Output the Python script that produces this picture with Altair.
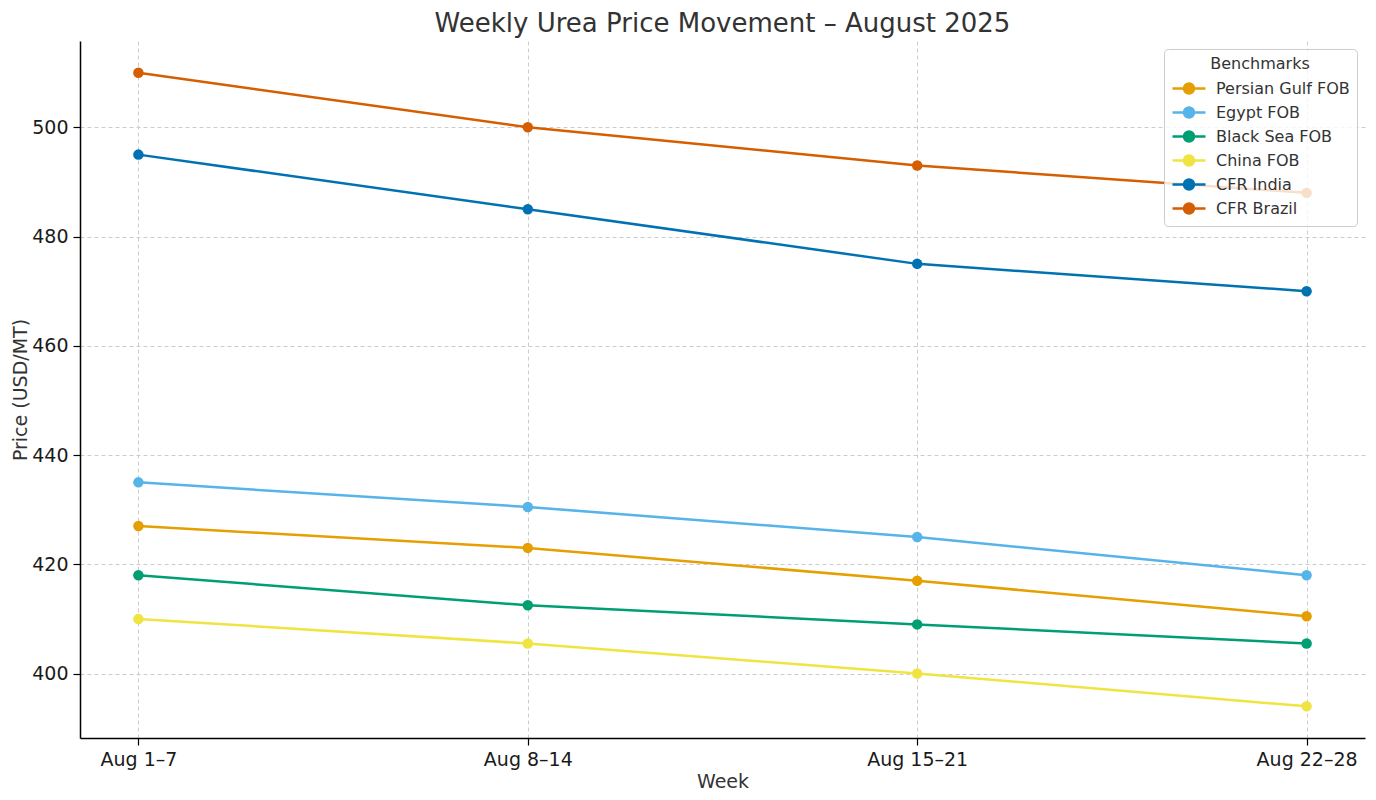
import altair as alt
import pandas as pd

weeks = ["Aug 1–7", "Aug 8–14", "Aug 15–21", "Aug 22–28"]
benchmarks = ["Persian Gulf FOB", "Egypt FOB", "Black Sea FOB", "China FOB", "CFR India", "CFR Brazil"]
colors = ["#E69F00", "#56B4E9", "#009E73", "#F0E442", "#0072B2", "#D55E00"]

persian_gulf = [427, 423, 417, 410.5]
egypt = [435, 430.5, 425, 418]
black_sea = [418, 412.5, 409, 405.5]
china = [410, 405.5, 400, 394]
cfr_india = [495, 485, 475, 470]
cfr_brazil = [510, 500, 493, 488]

series = [persian_gulf, egypt, black_sea, china, cfr_india, cfr_brazil]
rows = []
for name, vals in zip(benchmarks, series):
    for i, (w, v) in enumerate(zip(weeks, vals)):
        rows.append({"Week": w, "Benchmark": name, "Price": v, "order": i})
df = pd.DataFrame(rows)

FONT = "DejaVu Sans"
# line with a dot in the middle, for the legend
LEGEND_SYMBOL = "M-1,0L2.3,0M0.15,0A0.5,0.5 0 1,1 1.15,0A0.5,0.5 0 1,1 0.15,0Z"

x = alt.X("Week:N", sort=weeks, scale=alt.Scale(type="point", padding=0.15),
          axis=alt.Axis(title="Week", labelAngle=0, grid=True))
y = alt.Y("Price:Q", scale=alt.Scale(domain=[388.2, 515.8], nice=False, zero=False),
          axis=alt.Axis(title="Price (USD/MT)", values=[400, 420, 440, 460, 480, 500]))
color = alt.Color(
    "Benchmark:N",
    sort=benchmarks,
    scale=alt.Scale(domain=benchmarks, range=colors),
    legend=alt.Legend(
        title="Benchmarks",
        orient="none",
        legendX=1084,
        legendY=8,
        symbolType=LEGEND_SYMBOL,
        symbolSize=400,
        symbolStrokeWidth=2.5,
        zindex=1,
    ),
)

base = alt.Chart(df).encode(x=x, y=y, color=color, order="order:O")
lines = base.mark_line(strokeWidth=2.5)
points = base.mark_point(filled=True, size=110, opacity=1)

chart = (
    alt.layer(lines, points)
    .properties(
        width=1285,
        height=697,
        autosize=alt.AutoSizeParams(type="none"),
        padding={"left": 72, "top": 33, "right": 3, "bottom": 54},
        title=alt.Title("Weekly Urea Price Movement – August 2025", fontSize=26,
                        fontWeight="normal", color="#333333", font=FONT, offset=4),
    )
    .configure_view(stroke=None)
    .configure_axis(
        labelFont=FONT, titleFont=FONT, labelFontSize=19, titleFontSize=19,
        labelColor="#1a1a1a", titleColor="#333333", titleFontWeight="normal",
        domainColor="#000000", domainWidth=1.5, tickColor="#000000", tickSize=7,
        tickWidth=1.2, gridColor="#cccccc", gridDash=[4, 3], gridWidth=1,
        labelPadding=5,
    )
    .configure_axisX(titlePadding=3)
    .configure_axisY(titlePadding=1)
    .configure_legend(
        titleFont=FONT, labelFont=FONT, titleFontSize=16, labelFontSize=16,
        titleFontWeight="normal", titleColor="#333333", labelColor="#333333",
        titleAnchor="middle", fillColor="rgba(255,255,255,0.8)", strokeColor="#cccccc",
        cornerRadius=4, padding=7, rowPadding=2, labelOffset=22,
    )
)

chart.save("out.html", embed_options={"renderer": "svg", "actions": False})
